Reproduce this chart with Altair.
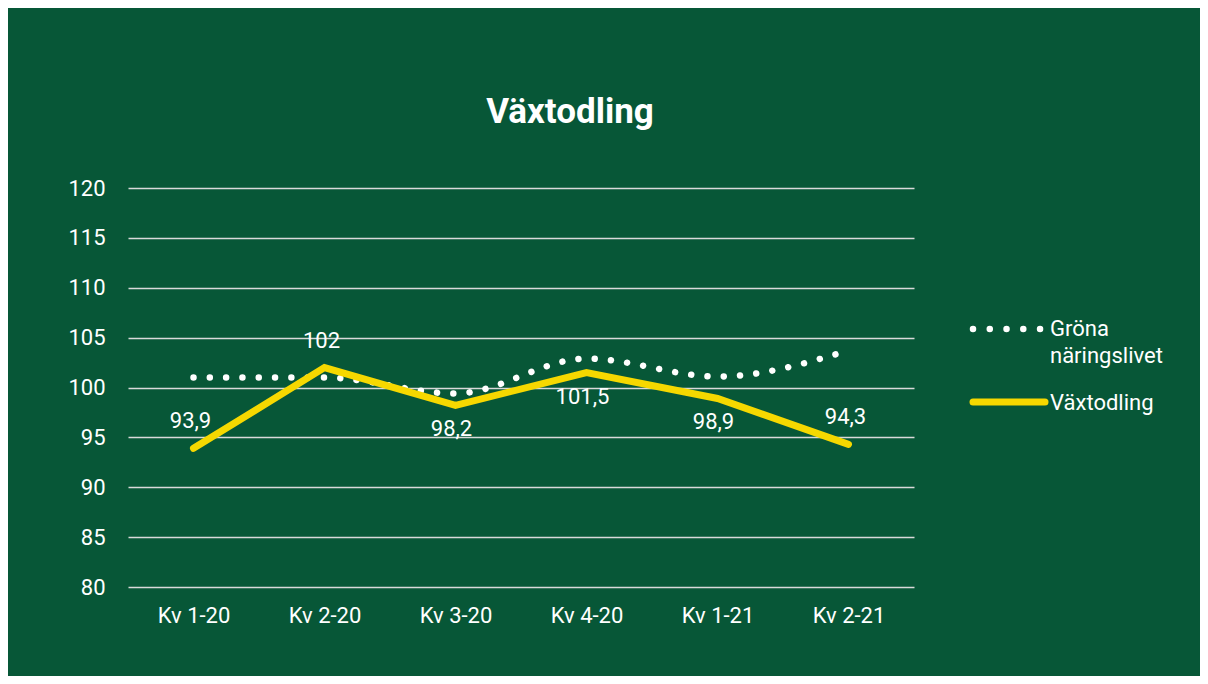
import altair as alt
import pandas as pd

categories = ["Kv 1-20", "Kv 2-20", "Kv 3-20", "Kv 4-20", "Kv 1-21", "Kv 2-21"]
grona = [101.0, 101.0, 99.4, 102.9, 101.1, 103.7]
vaxtodling = [93.9, 102.0, 98.2, 101.5, 98.9, 94.3]
label_side = ["above", "above", "below", "below", "below", "above"]
y_ticks = [80, 85, 90, 95, 100, 105, 110, 115, 120]

BG = "#075737"
YELLOW = "#F6D800"
FONT = "Roboto"


def fmt(v):
    s = f"{v:.1f}".replace(".", ",")
    return s[:-2] if s.endswith(",0") else s


df = pd.DataFrame({
    "kv": categories,
    "grona": grona,
    "vaxt": vaxtodling,
    "side": label_side,
    "label": [fmt(v) for v in vaxtodling],
})

x = alt.X("kv:N", sort=categories, title=None,
          axis=alt.Axis(labelAngle=0, domain=False, ticks=False, grid=False,
                        labelPadding=18, labelFontSize=22, labelColor="white", labelFont=FONT))
y_scale = alt.Scale(domain=[80, 120], nice=False, zero=False)
y_axis = alt.Axis(values=y_ticks, domain=False, ticks=False, grid=True, gridColor="#d9d9d9",
                  gridWidth=1.6, labelPadding=23, labelFontSize=22, labelColor="white", labelFont=FONT)

base = alt.Chart(df)

dotted = base.mark_line(color="white", strokeWidth=6.5, strokeCap="round",
                        strokeDash=[0.01, 16.3], interpolate="monotone").encode(
    x=x, y=alt.Y("grona:Q", scale=y_scale, axis=y_axis, title=None))

yellow = base.mark_line(color=YELLOW, strokeWidth=7, strokeCap="round", strokeJoin="miter").encode(
    x=x, y=alt.Y("vaxt:Q", scale=y_scale, title=None))

lab_above = base.transform_filter(alt.datum.side == "above").mark_text(
    fontSize=22, font=FONT, color="white", dy=-27, dx=-3).encode(
    x=x, y=alt.Y("vaxt:Q", scale=y_scale), text="label:N")
lab_below = base.transform_filter(alt.datum.side == "below").mark_text(
    fontSize=22, font=FONT, color="white", dy=24, dx=-4).encode(
    x=x, y=alt.Y("vaxt:Q", scale=y_scale), text="label:N")

one = alt.Data(values=[{"a": 0}])

title = alt.Chart(one).mark_text(text="Växtodling", fontSize=35, fontWeight="bold", font=FONT,
                                 color="white", align="center", baseline="alphabetic").encode(
    x=alt.value(442), y=alt.value(-65))

leg_dots = alt.Chart(one).mark_rule(color="white", strokeWidth=6.5, strokeCap="round",
                                    strokeDash=[0.01, 16.75]).encode(
    x=alt.value(845), x2=alt.value(913), y=alt.value(141))
leg_text1 = alt.Chart(one).mark_text(text=["Gröna", "näringslivet"], fontSize=22, font=FONT,
                                     color="white", align="left", baseline="alphabetic",
                                     lineHeight=27).encode(
    x=alt.value(922), y=alt.value(148))
leg_line = alt.Chart(one).mark_rule(color=YELLOW, strokeWidth=7, strokeCap="round").encode(
    x=alt.value(845), x2=alt.value(917), y=alt.value(214))
leg_text2 = alt.Chart(one).mark_text(text="Växtodling", fontSize=22, font=FONT, color="white",
                                     align="left", baseline="alphabetic").encode(
    x=alt.value(922), y=alt.value(222))

chart = alt.layer(dotted, yellow, lab_above, lab_below, title,
                  leg_dots, leg_text1, leg_line, leg_text2).properties(
    width=786, height=399,
    padding={"left": 120, "top": 180, "right": 286, "bottom": 89},
    autosize=alt.AutoSizeParams(type="none"),
    background=BG,
).configure_view(stroke=None)

chart.save("out.html", embed_options={"renderer": "svg", "actions": False})
